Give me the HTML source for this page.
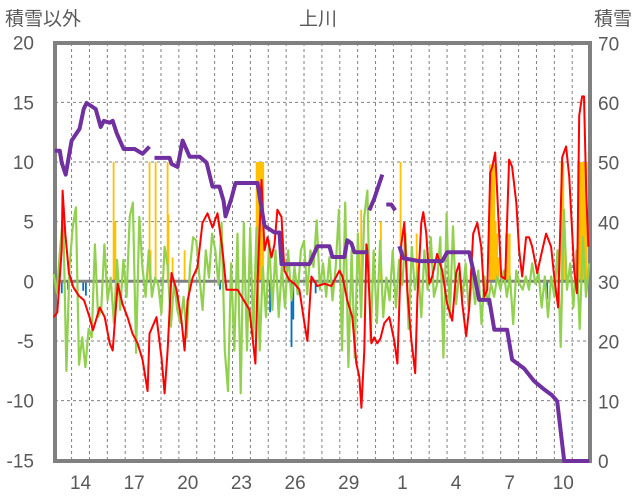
<!DOCTYPE html>
<html><head><meta charset="utf-8">
<style>
body{margin:0;background:#fff;}
svg{display:block;font-family:"Liberation Sans","Noto Sans CJK JP",sans-serif;}
</style></head><body>
<svg id="chart" width="636" height="501" viewBox="0 0 636 501" xmlns="http://www.w3.org/2000/svg">
<g id="grid"></g>
<g id="bars"></g>
<g id="lines"></g>
<g id="axes"></g>
<text x="5" y="25" font-size="19" fill="#595959">積雪以外</text>
<text x="318" y="25" font-size="19" fill="#595959" text-anchor="middle">上川</text>
<text x="632" y="25" font-size="19" fill="#595959" text-anchor="end">積雪</text>
</svg>
<script>
const leftTicks=[20,15,10,5,0,-5,-10,-15];
const rightTicks=[70,60,50,40,30,20,10,0];
const xLabels=["14","17","20","23","26","29","1","4","7","10"];
const xLabelDays=[1,4,7,10,13,16,19,22,25,28];
const redDays=[0,0.2,0.45,0.5,0.65,0.85,1.1,1.4,1.7,2.0,2.2,2.57,2.85,3.13,3.3,3.58,3.85,4.13,4.41,4.69,4.97,5.25,5.36,5.75,6.03,6.2,6.37,6.59,6.87,7.15,7.32,7.49,7.77,8.04,8.32,8.6,8.88,9.16,9.44,9.66,10.28,10.95,11.28,11.4,11.62,11.79,11.96,12.18,12.35,12.51,12.74,12.9,13.18,13.46,13.74,14.02,14.19,14.41,14.75,15.14,15.53,15.98,16.15,16.42,16.7,16.93,17.09,17.21,17.37,17.49,17.54,17.77,17.93,18.1,18.27,18.49,18.77,19.05,19.22,19.44,19.61,19.78,20.0,20.22,20.34,20.56,20.67,20.84,21.01,21.17,21.45,21.73,22.01,22.29,22.51,22.68,22.85,23.07,23.24,23.46,23.69,23.91,24.08,24.25,24.41,24.53,24.69,24.8,25.03,25.25,25.47,25.64,25.87,26.03,26.2,26.42,26.59,26.76,27.04,27.32,27.54,27.82,27.99,28.21,28.44,28.66,28.83,29.11,29.27,29.39,29.55,29.66,29.78,29.9];
const redValues=[-3,-2.6,2.6,7.6,4,0.7,-0.5,-1.2,-1.6,-3,-4.1,-2.2,-3,-5.2,-5.8,-0.2,-1.9,-3,-4.4,-5.2,-6.6,-9.2,-4.4,-3,-6.4,-9.4,-5.8,0.7,-0.7,-3.3,-5.8,-1.6,0.3,1.2,4.9,5.7,4.5,5.7,2.6,-0.7,-0.7,-2.4,-6.9,-0.2,8.5,2.6,3.7,2.0,3.1,6,5.4,0.9,0.1,-0.2,-0.7,-3.5,-5,0.4,-0.4,-0.2,-0.4,0.9,0.4,-1.6,-3,-6.9,-8,-10.6,-5.8,3.1,2.6,-5.2,-4.7,-5.2,-4.8,-3.5,-3,-5,-6.9,3.1,4.9,-0.9,-4.9,-7.7,-1.3,4.9,5.8,4.0,-0.2,0.4,2.3,0.9,-1.9,-3.3,0.7,1.5,-1.9,-4.6,-2.2,4,4.9,2.9,-1.3,-0.7,9.1,9.6,10.8,7.6,0.4,0.2,10.2,9.6,6.6,2.6,0.4,3.7,3.7,2.9,0.7,2.6,4,2.9,0.4,-2.2,10.4,11.3,8.8,0.9,-1,13.9,15.5,15.5,7.6,2.9];
const greenValues=[0.6,-1,2.6,5.7,-7.5,1.2,4.5,6.2,-7,-4.7,-7.2,-4,-4.7,3.1,-3,-2.4,3.1,-1.6,0.3,-3.5,1.8,-2.4,1.8,-1.3,5.4,6.6,-6,5.4,1.2,-1.3,2.6,-1.3,0.3,-0.3,-2.7,2.9,1.2,-3.8,0,-2.4,-3.5,-1.3,-4.7,1.2,3.7,3.4,0.3,-2.4,2.6,0.3,4,2.6,-0.3,4.9,-5.8,-9.2,1.5,-5.8,4,-9.4,4.9,-5.8,4.5,-4.7,4.5,-5.8,1.2,-3,3.4,-2.4,2.6,-3,1.2,-2.2,2.6,-1.6,1.2,-1.1,2.6,3.4,-1.1,2.6,1.2,5.1,-0.7,1.5,-1.3,2,-1.6,1.2,6,-5.8,6.6,-7.2,2.6,-6.4,4,-3,5.4,7.6,-5,2.6,-3.5,3.4,-3,0.3,-1.6,2.6,-2.2,1.8,-0.3,4,-4,2.9,-0.7,1.2,-3,2.6,-0.7,3.7,-1.3,-0.2,3.7,-6.4,5.7,-3,4.6,-1.9,0.7,-1.3,1.5,-2.5,0.4,-1.9,0.9,-3.6,0.4,-1.9,-0.2,-1.3,0.4,-0.7,0.9,-1.3,0.4,-3.6,0.9,-0.2,-0.7,0.4,-0.7,1.5,-0.2,0.7,-2.2,0.4,-3,0.4,-1.3,2.6,-5.5,6,-0.7,1.5,-2.2,2.6,-4,3.7,-1.3,1.5];
const snowDays=[0.06,0.34,0.45,0.67,1.0,1.45,1.68,1.84,2.35,2.63,2.8,3.13,3.3,3.52,3.91,4.53,4.97,5.36,null,5.64,6.48,6.59,6.93,7.21,7.6,8.16,8.55,8.88,9.27,9.5,9.61,9.94,10.17,11.4,11.79,12.35,12.63,12.74,13.74,14.3,14.75,15.42,15.59,16.26,16.42,16.65,16.82,17.54,null,17.65,17.93,18.38,null,18.6,18.88,19.1,null,19.33,19.55,20.45,21.73,22.01,23.24,23.46,23.8,24.36,24.64,25.36,25.64,26.31,26.87,27.43,27.88,28.16,28.55,29.95];
const snowValues=[52,52,50,48,53.7,55.7,59,60,59,56,57,56.7,57,55,52.3,52.3,51.5,52.7,null,50.8,50.8,49.8,49.3,53.7,51,51,50,46,46,43.6,41,44,46.6,46.6,39.4,38.3,38.3,33,33,33,36,36,34.2,34.2,37,36.5,35,35,null,42,44,48,null,43,43,42,null,36,34,33.5,33.5,35,35,32,27,27,22,22,17,15.5,13.4,12,11,10,0,0];
const precipDays=[3.35,3.45,5.36,5.42,5.7,6.37,6.42,6.65,7.32,11.35,11.42,11.5,11.58,11.65,11.72,17.2,18.3,19.4,20.3,24.4,24.48,24.56,24.64,24.72,24.8,24.88,25.3,25.4,25.5,28.4,28.5,28.6,29.33,29.41,29.49,29.57,29.65,29.73,29.81];
const precipValues=[10,5,10,2.6,10,10,5.6,2,2.6,10,10,10,10,10,10,6,5,10,4,9.8,9.8,9.8,9.8,5,4,2,4,4,4,10,10,3,10,10,10,10,10,10,10];
const windDays=[0.45,0.8,1.65,1.8,9.3,12.1,13.3,13.4,14.65,22.1,27.6];
const windValues=[-1,-0.7,-0.8,-1.2,-0.7,-2.6,-5.5,-3.2,-1,-0.5,-1.5];

const NS='http://www.w3.org/2000/svg';
const X0=53.7,XW=17.88,PL=55,PR=590,PT=43,PB=461;
function xs(d){return X0+d*XW;}
function yl(v){return 281.3-v*11.93;}
function yr(v){return 461-v*5.966;}
function mk(tag,attrs,parent){const e=document.createElementNS(NS,tag);for(const k in attrs)e.setAttribute(k,attrs[k]);parent.appendChild(e);return e;}
const grid=document.getElementById('grid'),bars=document.getElementById('bars'),lines=document.getElementById('lines'),axes=document.getElementById('axes');

for(let d=1;d<30;d++){
  const l=mk('line',{x1:xs(d),x2:xs(d),y1:PT,y2:PB,stroke:'#808080','stroke-width':1,'stroke-dasharray':'3,3'},grid);
  
  
}
leftTicks.forEach(v=>{
  if(v!==0&&v!==20&&v!==-15){
    const l=mk('line',{x1:PL,x2:PR,y1:yl(v),y2:yl(v),stroke:'#808080','stroke-width':1,'stroke-dasharray':'3,3'},grid);
    
    
  }
  const t=mk('text',{x:34,y:yl(v)+7,'font-size':19,fill:'#595959','text-anchor':'end'},axes);
  t.textContent=String(v);
  
  
});
rightTicks.forEach(v=>{
  const t=mk('text',{x:598,y:yr(v)+7,'font-size':19,fill:'#595959'},axes);
  t.textContent=String(v);
  
  
});
xLabels.forEach((s,i)=>{
  const t=mk('text',{x:xs(xLabelDays[i]+0.5),y:489,'font-size':19,fill:'#595959','text-anchor':'middle'},axes);
  t.textContent=s;
  
  
});

const fr=mk('rect',{x:PL,y:PT,width:PR-PL,height:PB-PT,fill:'none',stroke:'#808080','stroke-width':4},grid);



precipDays.forEach((d,i)=>{
  const y=yl(precipValues[i]);
  const r=mk('rect',{x:xs(d)-0.9,y:y,width:1.8,height:yl(0)-y,fill:'#FFC000'},bars);
  
  
});
windDays.forEach((d,i)=>{
  const r=mk('rect',{x:xs(d)-0.9,y:yl(0),width:1.8,height:yl(windValues[i])-yl(0),fill:'#0070C0'},bars);
  
  
});

const zl=mk('line',{x1:PL,x2:PR,y1:yl(0),y2:yl(0),stroke:'#808080','stroke-width':3},bars);



let gp='';
greenValues.forEach((v,i)=>{const d=i*29.95/(greenValues.length-1);gp+=(i?'L':'M')+xs(d).toFixed(1)+','+yl(v).toFixed(1);});
const g=mk('path',{d:gp,fill:'none',stroke:'#92D050','stroke-width':2.2,'stroke-linejoin':'round'},lines);



let rp='';
redDays.forEach((d,i)=>{rp+=(i?'L':'M')+xs(d).toFixed(1)+','+yl(redValues[i]).toFixed(1);});
const r=mk('path',{d:rp,fill:'none',stroke:'#FF0000','stroke-width':2,'stroke-linejoin':'round'},lines);



let sp='',pen=false;
snowDays.forEach((d,i)=>{
  if(d===null){pen=false;return;}
  sp+=(pen?'L':'M')+xs(d).toFixed(1)+','+yr(snowValues[i]).toFixed(1);pen=true;
});
const s=mk('path',{d:sp,fill:'none',stroke:'#7030A0','stroke-width':4,'stroke-linejoin':'round'},lines);


</script>
</body></html>
